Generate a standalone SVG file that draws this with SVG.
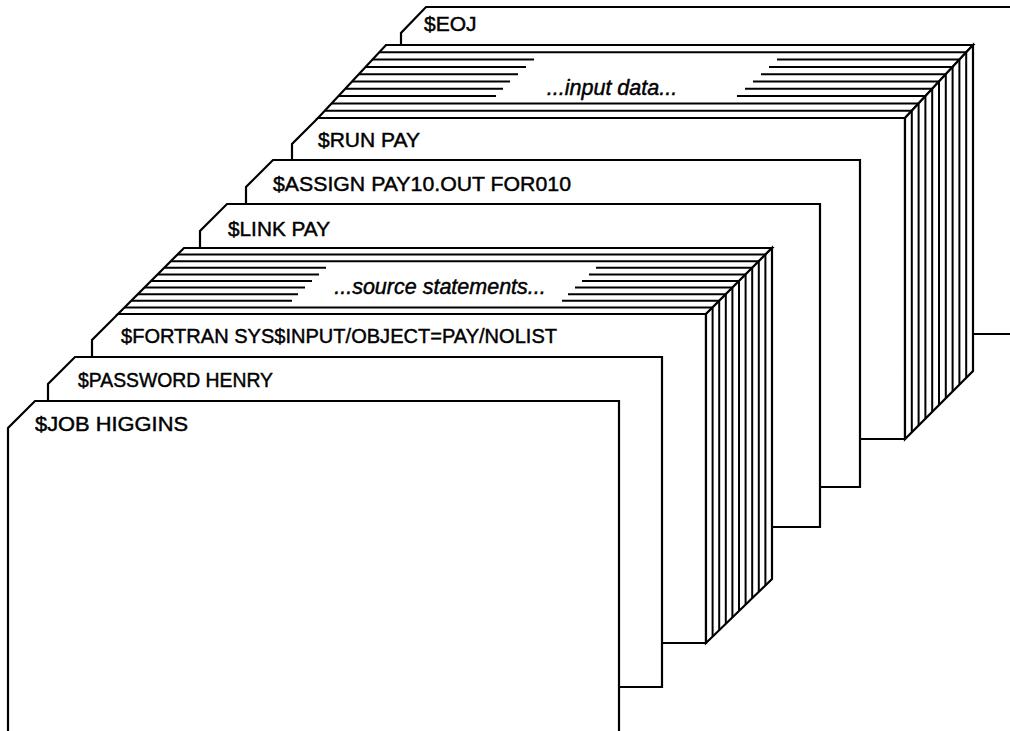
<svg xmlns="http://www.w3.org/2000/svg" width="1010" height="731" viewBox="0 0 1010 731">
<style>
.card{fill:#fff;stroke:#000;stroke-width:2.2;stroke-linejoin:miter}
.face{fill:#fff;stroke:#000;stroke-width:2.2;stroke-linejoin:miter}
.ln{fill:none;stroke:#000;stroke-width:2}
.lbl{font-family:"Liberation Sans",Arial,Helvetica,sans-serif;font-size:21px;fill:#000;stroke:#000;stroke-width:0.45}
.it{font-family:"Liberation Sans",Arial,Helvetica,sans-serif;font-size:21.5px;font-style:italic;fill:#000;stroke:#000;stroke-width:0.45;text-anchor:middle}
</style>
<rect width="1010" height="731" fill="#fff"/>

<g id="card-eoj">
<polygon class="card" points="401,334 401,33 426,7 1020,7 1020,334"/>
<text class="lbl" x="424" y="31">$EOJ</text>
</g>

<g id="deck-input">
<polygon class="card" points="292,439 292,144 318,118 905,118 905,439"/>
<polygon class="face" points="318,118 386,45 973,45 905,118"/>
<polygon class="face" points="905,118 973,45 973,371 905,439"/>
<path class="ln" d="M324.8 110.7H911.8M331.6 103.4H918.6M338.4 96.1H496M737 96.1H925.4M345.2 88.8H503M745 88.8H932.2M352 81.5H510M753 81.5H939M358.8 74.2H518M761 74.2H945.8M365.6 66.9H526M769 66.9H952.6M372.4 59.6H534M777 59.6H959.4M379.2 52.3H966.2"/>
<path class="ln" d="M911.8 110.7V432.2M918.6 103.4V425.4M925.4 96.1V418.6M932.2 88.8V411.8M939 81.5V405M945.8 74.2V398.2M952.6 66.9V391.4M959.4 59.6V384.6M966.2 52.3V377.8"/>
<text class="it" x="612" y="95">...input data...</text>
<text class="lbl" x="318" y="147" textLength="102" lengthAdjust="spacingAndGlyphs">$RUN PAY</text>
</g>

<g id="card-assign">
<polygon class="card" points="246,487 246,187 273,160 860,160 860,487"/>
<text class="lbl" x="273" y="191" textLength="298" lengthAdjust="spacingAndGlyphs">$ASSIGN PAY10.OUT FOR010</text>
</g>

<g id="card-link">
<polygon class="card" points="200,527 200,231 227,204 820,204 820,527"/>
<text class="lbl" x="228" y="236" textLength="102" lengthAdjust="spacingAndGlyphs">$LINK PAY</text>
</g>

<g id="deck-source">
<polygon class="card" points="92,643 92,340 118,314 706,314 706,643"/>
<polygon class="face" points="118,314 184,248 772,248 706,314"/>
<polygon class="face" points="706,314 772,248 772,579 706,643"/>
<path class="ln" d="M124.6 307.4H712.6M131.2 300.8H292M562 300.8H719.2M137.8 294.2H298M568 294.2H725.8M144.4 287.6H305M575 287.6H732.4M151 281H312M582 281H739M157.6 274.4H319M589 274.4H745.6M164.2 267.8H326M596 267.8H752.2M170.8 261.2H758.8M177.4 254.6H765.4"/>
<path class="ln" d="M712.6 307.4V636.6M719.2 300.8V630.2M725.8 294.2V623.8M732.4 287.6V617.4M739 281V611M745.6 274.4V604.6M752.2 267.8V598.2M758.8 261.2V591.8M765.4 254.6V585.4"/>
<text class="it" x="440" y="294">...source statements...</text>
<text class="lbl" x="121" y="343" textLength="436" lengthAdjust="spacingAndGlyphs">$FORTRAN SYS$INPUT/OBJECT=PAY/NOLIST</text>
</g>

<g id="card-password">
<polygon class="card" points="48,687 48,384 75,357 662,357 662,687"/>
<text class="lbl" x="78" y="387" textLength="195" lengthAdjust="spacingAndGlyphs">$PASSWORD HENRY</text>
</g>

<g id="card-job">
<polygon class="card" points="8,745 8,428 35,401 619,401 619,745"/>
<text class="lbl" x="35" y="431" textLength="153" lengthAdjust="spacingAndGlyphs">$JOB HIGGINS</text>
</g>
</svg>
